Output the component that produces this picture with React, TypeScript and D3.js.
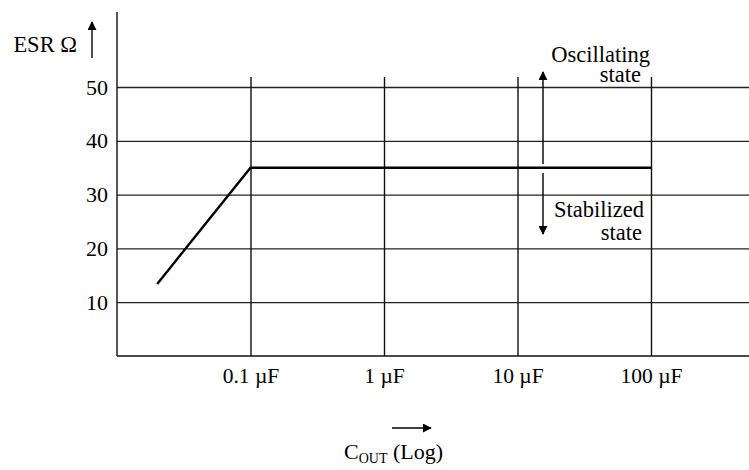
import React, { useRef, useEffect } from 'react';
import * as d3 from 'd3';

// ESR stability boundary vs output capacitance
const capValues = [0.02, 0.1, 1, 10, 100]; // µF
const esrValues = [13.4, 35, 35, 35, 35]; // Ω

const xTicks = [0.1, 1, 10, 100];
const xTickLabels = ['0.1 µF', '1 µF', '10 µF', '100 µF'];
const yTicks = [10, 20, 30, 40, 50];

const FONT = '"Liberation Serif", "Times New Roman", serif';

function App() {
  const ref = useRef<SVGSVGElement>(null);

  useEffect(() => {
    document.body.style.margin = '0';
    const W = 749;
    const left = 117;
    const bottom = 356;

    const svg = d3.select(ref.current);
    svg.selectAll('*').remove();

    const defs = svg.append('defs');
    defs.append('marker')
      .attr('id', 'ah')
      .attr('viewBox', '0 0 10 10')
      .attr('refX', 9)
      .attr('refY', 5)
      .attr('markerWidth', 9)
      .attr('markerHeight', 9)
      .attr('markerUnits', 'userSpaceOnUse')
      .attr('orient', 'auto')
      .append('path')
      .attr('d', 'M0,0 L10,5 L0,10 Z')
      .attr('fill', '#000');

    const x = d3.scaleLog().domain([0.01, 100]).range([left, 651]);
    const y = d3.scaleLinear().domain([0, 50]).range([bottom, 87]);

    // horizontal grid + y labels
    const gy = svg.append('g')
      .attr('transform', `translate(${left},0)`)
      .call(d3.axisLeft(y).tickValues(yTicks).tickSize(-(W - left)).tickPadding(9));
    gy.select('.domain').remove();
    gy.selectAll('line').attr('stroke', '#222').attr('stroke-width', 1.3);
    gy.selectAll('text')
      .attr('font-family', FONT)
      .attr('font-size', 22)
      .attr('fill', '#000');

    // vertical grid + x labels
    const gx = svg.append('g')
      .attr('transform', `translate(0,${bottom})`)
      .call(d3.axisBottom(x).tickValues(xTicks)
        .tickSize(-(bottom - 77))
        .tickPadding(12)
        .tickFormat((d, i) => xTickLabels[i]));
    gx.select('.domain').remove();
    gx.selectAll('line').attr('stroke', '#111').attr('stroke-width', 1.4);
    gx.selectAll('text')
      .attr('font-family', FONT)
      .attr('font-size', 21.5)
      .attr('fill', '#000');

    // axes frame
    svg.append('line')
      .attr('x1', left).attr('x2', left)
      .attr('y1', 12).attr('y2', bottom)
      .attr('stroke', '#111').attr('stroke-width', 1.4);
    svg.append('line')
      .attr('x1', left).attr('x2', W)
      .attr('y1', bottom).attr('y2', bottom)
      .attr('stroke', '#111').attr('stroke-width', 1.4);

    // ESR boundary curve
    const line = d3.line<number>()
      .x((d, i) => x(capValues[i]))
      .y(d => y(d));
    svg.append('path')
      .datum(esrValues)
      .attr('d', line)
      .attr('fill', 'none')
      .attr('stroke', '#000')
      .attr('stroke-width', 2.4)
      .attr('stroke-linejoin', 'miter');

    // region arrows
    svg.append('line')
      .attr('x1', 543).attr('x2', 543)
      .attr('y1', 164).attr('y2', 72)
      .attr('stroke', '#000').attr('stroke-width', 1.4)
      .attr('marker-end', 'url(#ah)');
    svg.append('line')
      .attr('x1', 543).attr('x2', 543)
      .attr('y1', 173).attr('y2', 234)
      .attr('stroke', '#000').attr('stroke-width', 1.4)
      .attr('marker-end', 'url(#ah)');

    const txt = (tx: number, ty: number, s: string, anchor = 'end') =>
      svg.append('text')
        .attr('x', tx).attr('y', ty)
        .attr('text-anchor', anchor)
        .attr('font-family', FONT)
        .attr('font-size', 22.5)
        .text(s);

    txt(650, 62, 'Oscillating');
    txt(641, 82, 'state');
    txt(644, 217, 'Stabilized');
    txt(642, 240, 'state');

    // y-axis title
    txt(77, 52, 'ESR Ω');
    svg.append('line')
      .attr('x1', 92).attr('x2', 92)
      .attr('y1', 58).attr('y2', 22)
      .attr('stroke', '#000').attr('stroke-width', 1.4)
      .attr('marker-end', 'url(#ah)');

    // x-axis title
    svg.append('line')
      .attr('x1', 392).attr('x2', 431)
      .attr('y1', 428).attr('y2', 428)
      .attr('stroke', '#000').attr('stroke-width', 1.4)
      .attr('marker-end', 'url(#ah)');
    const xt = svg.append('text')
      .attr('x', 344).attr('y', 459)
      .attr('font-family', FONT)
      .attr('font-size', 22);
    xt.append('tspan').text('C');
    xt.append('tspan').attr('font-size', 14).attr('dy', 4).text('OUT');
    xt.append('tspan').attr('dy', -4).text(' (Log)');
  }, []);

  return <svg ref={ref} width={749} height={470} style={{ display: 'block', background: '#fff' }}></svg>;
}

export default App;
